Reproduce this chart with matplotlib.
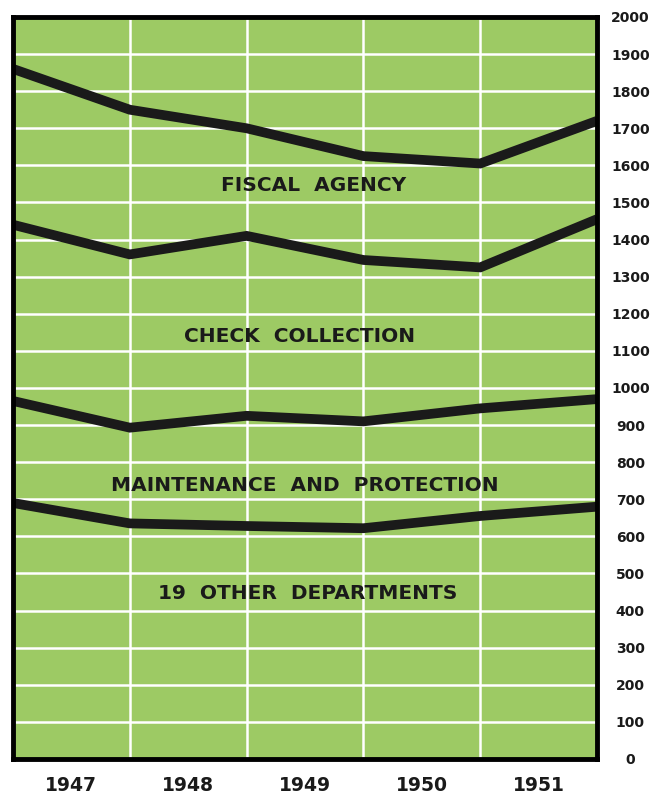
import matplotlib
matplotlib.use('Agg')
import matplotlib.pyplot as plt

# boundaries between years (start of 1947 ... end of 1951)
years = ['1947', '1948', '1949', '1950', '1951']
bounds = [0, 1, 2, 3, 4, 5]

fiscal = [1860, 1750, 1700, 1625, 1605, 1720]
check = [1440, 1360, 1410, 1345, 1325, 1455]
maint = [965, 893, 925, 910, 945, 970]
other = [690, 635, 628, 622, 655, 680]

labels = ['FISCAL  AGENCY', 'CHECK  COLLECTION', 'MAINTENANCE  AND  PROTECTION', '19  OTHER  DEPARTMENTS']
label_x = [2.57, 2.45, 2.5, 2.52]
label_y = [1545, 1140, 738, 447]

yticks = list(range(0, 2001, 100))

green = '#9dca64'
ink = '#1a1a1a'

fig = plt.figure(figsize=(6.57, 7.97), dpi=100)
ax = fig.add_axes([0.0198, 0.0477, 0.8889, 0.931])
ax.set_facecolor(green)

for y in yticks[1:-1]:
    ax.axhline(y, color='white', lw=1.8, zorder=1)
for x in bounds[1:-1]:
    ax.axvline(x, color='white', lw=1.8, zorder=1)

for s in [fiscal, check, maint, other]:
    ax.plot(bounds, s, color=ink, lw=7, solid_capstyle='butt', solid_joinstyle='miter', zorder=3)

for t, x, y in zip(labels, label_x, label_y):
    ax.text(x, y, t, ha='center', va='center', fontsize=14.5, fontweight='bold',
            color=ink, zorder=4)

ax.set_xlim(0, 5)
ax.set_ylim(0, 2000)
for sp in ax.spines.values():
    sp.set_linewidth(3.5)
    sp.set_color('black')
    sp.set_zorder(5)

ax.yaxis.tick_right()
ax.set_yticks(yticks)
ax.set_yticklabels([str(v) for v in yticks], fontsize=10, fontweight='bold', color=ink)
for lab in ax.get_yticklabels():
    lab.set_horizontalalignment('center')
ax.tick_params(axis='y', length=0, pad=24)

ax.set_xticks([b + 0.5 for b in bounds[:-1]])
ax.set_xticklabels(years, fontsize=13.5, fontweight='bold', color=ink)
ax.tick_params(axis='x', length=0, pad=12)

fig.savefig('out.png', dpi=100, facecolor='white')
